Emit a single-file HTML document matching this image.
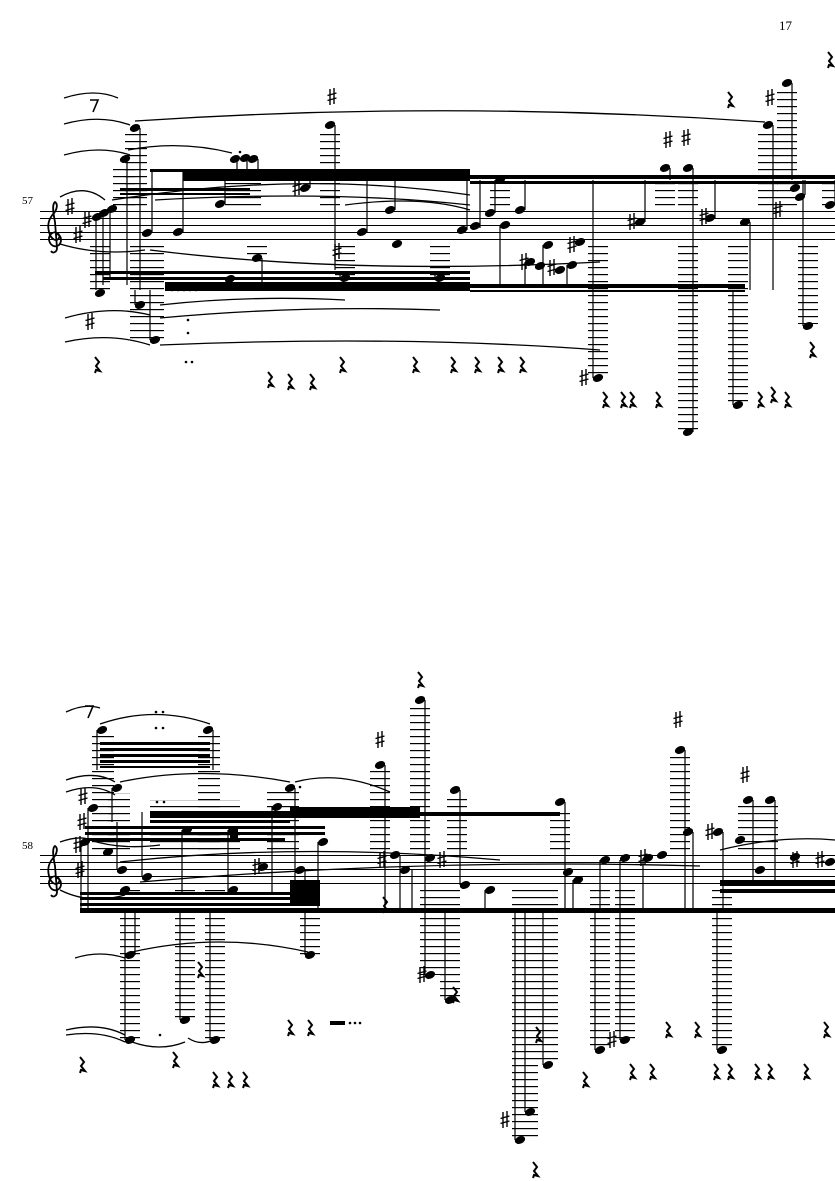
<!DOCTYPE html>
<html><head><meta charset="utf-8"><style>
html,body{margin:0;padding:0;background:#fff}
svg{display:block}
text{font-family:"Liberation Serif",serif;fill:#000}
</style></head><body>
<svg width="835" height="1181" viewBox="0 0 835 1181" xmlns="http://www.w3.org/2000/svg">
<defs>
<pattern id="L" x="0" y="1" width="40" height="7" patternUnits="userSpaceOnUse"><rect x="0" y="0" width="40" height="1.2" fill="#000"/></pattern>
<ellipse id="n" cx="0" cy="0" rx="5.3" ry="3.7" transform="rotate(-22)" fill="#000"/>
<path id="s" d="M-2,-8v16M2,-9v16M-4.5,-1.5l9,-2.5M-4.5,3.5l9,-2.5" stroke="#000" stroke-width="1.4" fill="none"/>
<path id="r" d="M-2,-8l4,5-3,4 4,5-4,-1-1,3" stroke="#000" stroke-width="2" fill="none"/>
<path id="c" d="M8,-18c-6,6-8,12-6,20c2,8 8,10 10,6c2-4-4-8-8-4c-5,5 0,14 6,12c6-2 5-12-1-12M8,-18c2,-4 3,-8 0,-10c-3,2-2,10 0,20l2,26c0,4-4,6-6,3" stroke="#000" stroke-width="1.8" fill="none"/>
</defs>
<text x="779" y="30" font-size="13">17</text>
<text x="22" y="204" font-size="11">57</text>
<text x="22" y="849" font-size="11">58</text>

<!-- ===== SYSTEM 1 ===== -->
<g stroke="#000" stroke-width="1">
<path d="M40,211.5H835M40,218.5H835M40,225.5H835M40,232.5H835M40,239.5H835"/>
</g>
<use href="#c" x="47" y="230"/>
<use href="#s" x="70" y="207"/><use href="#s" x="78" y="235"/><use href="#s" x="87" y="220"/>
<!-- ledger stacks -->
<g fill="url(#L)">
<rect x="125" y="134" width="22" height="72"/>
<rect x="113" y="165" width="22" height="41"/>
<rect x="225" y="165" width="36" height="41"/>
<rect x="320" y="131" width="20" height="75"/>
<rect x="490" y="186" width="20" height="20"/>
<rect x="655" y="172" width="20" height="34"/>
<rect x="678" y="172" width="20" height="34"/>
<rect x="758" y="131" width="20" height="75"/>
<rect x="777" y="89" width="20" height="117"/>
<rect x="822" y="180" width="13" height="26"/>
<rect x="130" y="246" width="34" height="95"/>
<rect x="335" y="246" width="20" height="32"/>
<rect x="430" y="246" width="20" height="32"/>
<rect x="247" y="246" width="20" height="12"/>
<rect x="588" y="246" width="20" height="130"/>
<rect x="678" y="246" width="20" height="186"/>
<rect x="728" y="246" width="20" height="158"/>
<rect x="798" y="246" width="20" height="78"/>
<rect x="90" y="246" width="20" height="45"/>
</g>
<!-- beams -->
<g fill="#000">
<rect x="150" y="169" width="320" height="3"/>
<rect x="183" y="172" width="287" height="9"/>
<rect x="470" y="175" width="365" height="4"/>
<rect x="470" y="181" width="365" height="3"/>
<rect x="120" y="188" width="130" height="3"/>
<rect x="120" y="193" width="130" height="2"/>
<rect x="95" y="271" width="375" height="3"/>
<rect x="103" y="277" width="367" height="3"/>
<rect x="165" y="282" width="305" height="9"/>
<rect x="470" y="284" width="275" height="4"/>
<rect x="470" y="290" width="275" height="2"/>
</g>
<!-- stems -->
<path stroke="#000" stroke-width="1.2" fill="none" d="M140,128V290M127,158V285M96,215V290M103,212V285M110,210V280M152,232V170M183,232V170M225,204V170M237,158V175M247,158V175M258,159V175M262,258V285M335,125V270M310,188V175M340,278V272M367,232V170M395,210V170M435,278V272M467,230V180M480,228V180M495,213V180M505,180V180M500,225V285M525,210V180M525,262V285M543,245V285M567,265V285M593,378V180M645,222V180M670,168V180M693,168V432M715,218V180M750,222V290M733,405V290M773,125V290M792,83V180M805,195V180M803,326V180M835,205V180M150,340V290M135,305V290"/>
<!-- noteheads -->
<g>
<use href="#n" x="135" y="128"/><use href="#n" x="125" y="159"/><use href="#n" x="235" y="159"/><use href="#n" x="245" y="158"/><use href="#n" x="253" y="159"/>
<use href="#n" x="330" y="125"/><use href="#n" x="305" y="188"/><use href="#n" x="97" y="217"/><use href="#n" x="104" y="213"/><use href="#n" x="112" y="209"/>
<use href="#n" x="147" y="233"/><use href="#n" x="178" y="232"/><use href="#n" x="220" y="204"/><use href="#n" x="257" y="258"/>
<use href="#n" x="345" y="278"/><use href="#n" x="362" y="232"/><use href="#n" x="390" y="210"/><use href="#n" x="397" y="244"/><use href="#n" x="440" y="278"/>
<use href="#n" x="462" y="230"/><use href="#n" x="475" y="226"/><use href="#n" x="490" y="213"/><use href="#n" x="500" y="180"/><use href="#n" x="505" y="225"/><use href="#n" x="520" y="210"/>
<use href="#n" x="530" y="262"/><use href="#n" x="540" y="266"/><use href="#n" x="548" y="245"/><use href="#n" x="560" y="270"/><use href="#n" x="572" y="265"/><use href="#n" x="580" y="242"/>
<use href="#n" x="598" y="378"/><use href="#n" x="640" y="222"/><use href="#n" x="665" y="168"/><use href="#n" x="688" y="168"/><use href="#n" x="688" y="432"/>
<use href="#n" x="710" y="218"/><use href="#n" x="745" y="222"/><use href="#n" x="738" y="405"/><use href="#n" x="768" y="125"/><use href="#n" x="787" y="83"/>
<use href="#n" x="795" y="188"/><use href="#n" x="800" y="197"/><use href="#n" x="808" y="326"/><use href="#n" x="830" y="205"/><use href="#n" x="155" y="340"/><use href="#n" x="140" y="305"/><use href="#n" x="100" y="293"/>
<use href="#n" x="230" y="279"/>
</g>
<g>
<use href="#s" x="332" y="97"/><use href="#s" x="297" y="188"/><use href="#s" x="337" y="252"/><use href="#s" x="524" y="262"/><use href="#s" x="552" y="268"/><use href="#s" x="572" y="245"/>
<use href="#s" x="584" y="378"/><use href="#s" x="668" y="140"/><use href="#s" x="686" y="138"/><use href="#s" x="704" y="217"/><use href="#s" x="778" y="210"/><use href="#s" x="770" y="98"/>
<use href="#s" x="90" y="322"/><use href="#s" x="632" y="222"/>
</g>
<!-- slurs -->
<g stroke="#000" stroke-width="1.3" fill="none">
<path d="M135,121Q450,100 765,122"/>
<path d="M64,98Q95,88 118,98"/><path d="M64,124Q100,114 130,125"/><path d="M64,155Q100,145 130,155"/>
<path d="M128,150Q180,140 232,153"/>
<path d="M60,197Q85,183 105,200"/><path d="M60,244Q100,256 145,250"/>
<path d="M150,250Q350,275 600,262"/><path d="M155,200Q330,190 470,205"/>
<path d="M112,200Q300,170 470,195"/>
<path d="M65,318Q110,305 150,315"/><path d="M65,342Q110,332 150,345"/>
<path d="M160,305Q250,295 345,300"/><path d="M160,318Q300,305 440,310"/>
<path d="M160,345Q400,335 600,350"/>
<path d="M345,205Q420,195 470,210"/>
</g>
<path d="M90,100h8l-5,12" stroke="#000" stroke-width="1.6" fill="none"/>
<g fill="#000"><circle cx="172" cy="290" r="1.3"/><circle cx="178" cy="290" r="1.3"/><circle cx="184" cy="290" r="1.3"/><circle cx="190" cy="290" r="1.3"/><circle cx="196" cy="290" r="1.3"/>
<circle cx="188" cy="320" r="1.3"/><circle cx="188" cy="333" r="1.3"/><circle cx="186" cy="362" r="1.3"/><circle cx="192" cy="362" r="1.3"/><circle cx="240" cy="152" r="1.3"/></g>
<g>
<use href="#r" x="97" y="365"/><use href="#r" x="270" y="380"/><use href="#r" x="290" y="382"/><use href="#r" x="312" y="382"/><use href="#r" x="342" y="365"/>
<use href="#r" x="415" y="365"/><use href="#r" x="453" y="365"/><use href="#r" x="477" y="365"/><use href="#r" x="500" y="365"/><use href="#r" x="522" y="365"/>
<use href="#r" x="605" y="400"/><use href="#r" x="623" y="400"/><use href="#r" x="632" y="400"/><use href="#r" x="658" y="400"/><use href="#r" x="760" y="400"/><use href="#r" x="773" y="395"/><use href="#r" x="787" y="400"/>
<use href="#r" x="812" y="350"/><use href="#r" x="830" y="60"/><use href="#r" x="730" y="100"/>
</g>

<!-- ===== SYSTEM 2 ===== -->
<g stroke="#000" stroke-width="1">
<path d="M40,855.5H835M40,862.5H835M40,869.5H835M40,876.5H835M40,883.5H835"/>
</g>
<use href="#c" x="47" y="874"/>
<use href="#s" x="78" y="845"/><use href="#s" x="80" y="870"/>
<g fill="url(#L)">
<rect x="92" y="736" width="22" height="114"/>
<rect x="198" y="736" width="22" height="114"/>
<rect x="108" y="793" width="22" height="57"/>
<rect x="150" y="800" width="90" height="50"/>
<rect x="267" y="792" width="32" height="58"/>
<rect x="370" y="771" width="20" height="79"/>
<rect x="410" y="706" width="20" height="144"/>
<rect x="447" y="796" width="20" height="54"/>
<rect x="550" y="808" width="20" height="42"/>
<rect x="670" y="756" width="20" height="94"/>
<rect x="738" y="806" width="40" height="44"/>
<rect x="120" y="890" width="20" height="150"/>
<rect x="175" y="890" width="20" height="130"/>
<rect x="205" y="890" width="20" height="150"/>
<rect x="300" y="890" width="20" height="65"/>
<rect x="420" y="890" width="20" height="85"/>
<rect x="440" y="890" width="20" height="110"/>
<rect x="512" y="890" width="26" height="250"/>
<rect x="538" y="890" width="20" height="175"/>
<rect x="590" y="890" width="20" height="160"/>
<rect x="615" y="890" width="20" height="150"/>
<rect x="712" y="890" width="20" height="160"/>
</g>
<g fill="#000">
<rect x="100" y="742" width="110" height="3"/><rect x="100" y="748" width="110" height="3"/><rect x="100" y="754" width="110" height="3"/><rect x="100" y="760" width="110" height="3"/><rect x="100" y="766" width="110" height="2"/>
<rect x="150" y="811" width="270" height="7"/><rect x="150" y="820" width="140" height="3"/>
<rect x="85" y="826" width="240" height="3"/><rect x="85" y="832" width="240" height="3"/><rect x="85" y="838" width="200" height="3"/><rect x="230" y="826" width="8" height="15"/>
<rect x="290" y="807" width="130" height="7"/><rect x="420" y="812" width="140" height="4"/>
<rect x="80" y="892" width="240" height="3"/><rect x="80" y="897" width="240" height="3"/><rect x="80" y="903" width="240" height="3"/><rect x="80" y="908" width="755" height="5"/>
<rect x="290" y="880" width="30" height="26"/>
<rect x="720" y="880" width="115" height="6"/><rect x="720" y="889" width="115" height="4"/>
<rect x="330" y="1021" width="15" height="4"/>
</g>
<path stroke="#000" stroke-width="1.2" fill="none" d="M81,842V913M88,808V913M112,788V822M97,730V770M213,730V770M117,870V822M142,877V812M182,830V892M228,830V892M272,807V892M295,788V880M305,870V892M318,842V913M385,765V913M425,700V913M460,790V812M460,885V812M485,890V912M565,802V913M573,880V912M600,860V912M620,860V912M643,858V912M685,750V912M693,832V912M723,832V912M753,800V880M775,800V880M135,955V913M125,1040V913M180,1020V913M210,1040V913M305,955V913M425,975V913M445,1000V913M515,1140V913M525,1112V913M543,1065V913M595,1050V913M620,1040V913M717,1050V913M400,855V913M412,870V913"/>
<g>
<use href="#n" x="102" y="730"/><use href="#n" x="208" y="730"/><use href="#n" x="85" y="842"/><use href="#n" x="93" y="808"/><use href="#n" x="117" y="788"/>
<use href="#n" x="108" y="852"/><use href="#n" x="122" y="870"/><use href="#n" x="147" y="877"/><use href="#n" x="187" y="830"/><use href="#n" x="233" y="830"/>
<use href="#n" x="125" y="890"/><use href="#n" x="233" y="890"/><use href="#n" x="277" y="807"/><use href="#n" x="290" y="788"/><use href="#n" x="263" y="867"/>
<use href="#n" x="300" y="870"/><use href="#n" x="323" y="842"/><use href="#n" x="380" y="765"/><use href="#n" x="420" y="700"/><use href="#n" x="455" y="790"/>
<use href="#n" x="395" y="855"/><use href="#n" x="405" y="870"/><use href="#n" x="430" y="858"/><use href="#n" x="465" y="885"/><use href="#n" x="490" y="890"/>
<use href="#n" x="560" y="802"/><use href="#n" x="568" y="872"/><use href="#n" x="578" y="880"/><use href="#n" x="605" y="860"/><use href="#n" x="625" y="858"/><use href="#n" x="648" y="858"/><use href="#n" x="662" y="855"/>
<use href="#n" x="680" y="750"/><use href="#n" x="688" y="832"/><use href="#n" x="718" y="832"/><use href="#n" x="748" y="800"/><use href="#n" x="770" y="800"/>
<use href="#n" x="740" y="840"/><use href="#n" x="760" y="870"/><use href="#n" x="795" y="857"/><use href="#n" x="830" y="862"/>
<use href="#n" x="130" y="955"/><use href="#n" x="130" y="1040"/><use href="#n" x="185" y="1020"/><use href="#n" x="215" y="1040"/><use href="#n" x="310" y="955"/>
<use href="#n" x="430" y="975"/><use href="#n" x="450" y="1000"/><use href="#n" x="520" y="1140"/><use href="#n" x="530" y="1112"/><use href="#n" x="548" y="1065"/>
<use href="#n" x="600" y="1050"/><use href="#n" x="625" y="1040"/><use href="#n" x="722" y="1050"/>
</g>
<g>
<use href="#s" x="82" y="822"/><use href="#s" x="83" y="797"/><use href="#s" x="380" y="740"/><use href="#s" x="382" y="860"/><use href="#s" x="257" y="867"/>
<use href="#s" x="442" y="860"/><use href="#s" x="422" y="975"/><use href="#s" x="505" y="1120"/><use href="#s" x="612" y="1040"/><use href="#s" x="678" y="720"/>
<use href="#s" x="745" y="775"/><use href="#s" x="710" y="832"/><use href="#s" x="795" y="860"/><use href="#s" x="643" y="858"/><use href="#s" x="820" y="860"/>
</g>
<g stroke="#000" stroke-width="1.3" fill="none">
<path d="M100,724Q155,705 210,724"/><path d="M66,712Q85,703 100,708"/>
<path d="M66,780Q95,770 115,782"/><path d="M66,792Q95,782 115,795"/>
<path d="M120,782Q200,765 290,782"/><path d="M295,782Q340,770 390,792"/>
<path d="M90,840Q120,850 160,845"/><path d="M60,842Q80,835 90,840"/>
<path d="M60,890Q90,905 125,895"/>
<path d="M120,862Q300,842 500,860"/><path d="M140,882Q420,858 700,866"/><path d="M720,850Q780,835 835,840"/>
<path d="M66,1030Q100,1022 125,1035"/><path d="M66,1035Q100,1030 125,1042"/>
<path d="M132,952Q220,932 308,952"/><path d="M132,1042Q160,1052 185,1042"/><path d="M188,1038Q200,1046 213,1040"/>
<path d="M75,958Q100,950 125,958"/>
</g>
<path d="M85,706h8l-5,12" stroke="#000" stroke-width="1.6" fill="none"/>
<g fill="#000"><circle cx="156" cy="712" r="1.3"/><circle cx="163" cy="712" r="1.3"/><circle cx="156" cy="728" r="1.3"/><circle cx="163" cy="728" r="1.3"/>
<circle cx="157" cy="802" r="1.3"/><circle cx="164" cy="802" r="1.3"/><circle cx="160" cy="1035" r="1.3"/><circle cx="350" cy="1023" r="1.3"/><circle cx="355" cy="1023" r="1.3"/><circle cx="360" cy="1023" r="1.3"/><circle cx="300" cy="787" r="1.3"/></g>
<g>
<use href="#r" x="420" y="680"/><use href="#r" x="290" y="1028"/><use href="#r" x="310" y="1028"/><use href="#r" x="538" y="1035"/><use href="#r" x="668" y="1030"/><use href="#r" x="697" y="1030"/><use href="#r" x="826" y="1030"/>
<use href="#r" x="215" y="1080"/><use href="#r" x="230" y="1080"/><use href="#r" x="245" y="1080"/><use href="#r" x="585" y="1080"/><use href="#r" x="632" y="1072"/><use href="#r" x="652" y="1072"/>
<use href="#r" x="716" y="1072"/><use href="#r" x="730" y="1072"/><use href="#r" x="757" y="1072"/><use href="#r" x="770" y="1072"/><use href="#r" x="806" y="1072"/>
<use href="#r" x="535" y="1170"/><use href="#r" x="82" y="1065"/><use href="#r" x="175" y="1060"/><use href="#r" x="455" y="995"/><use href="#r" x="200" y="970"/><use href="#r" x="385" y="905"/>
</g>
</svg>
</body></html>
